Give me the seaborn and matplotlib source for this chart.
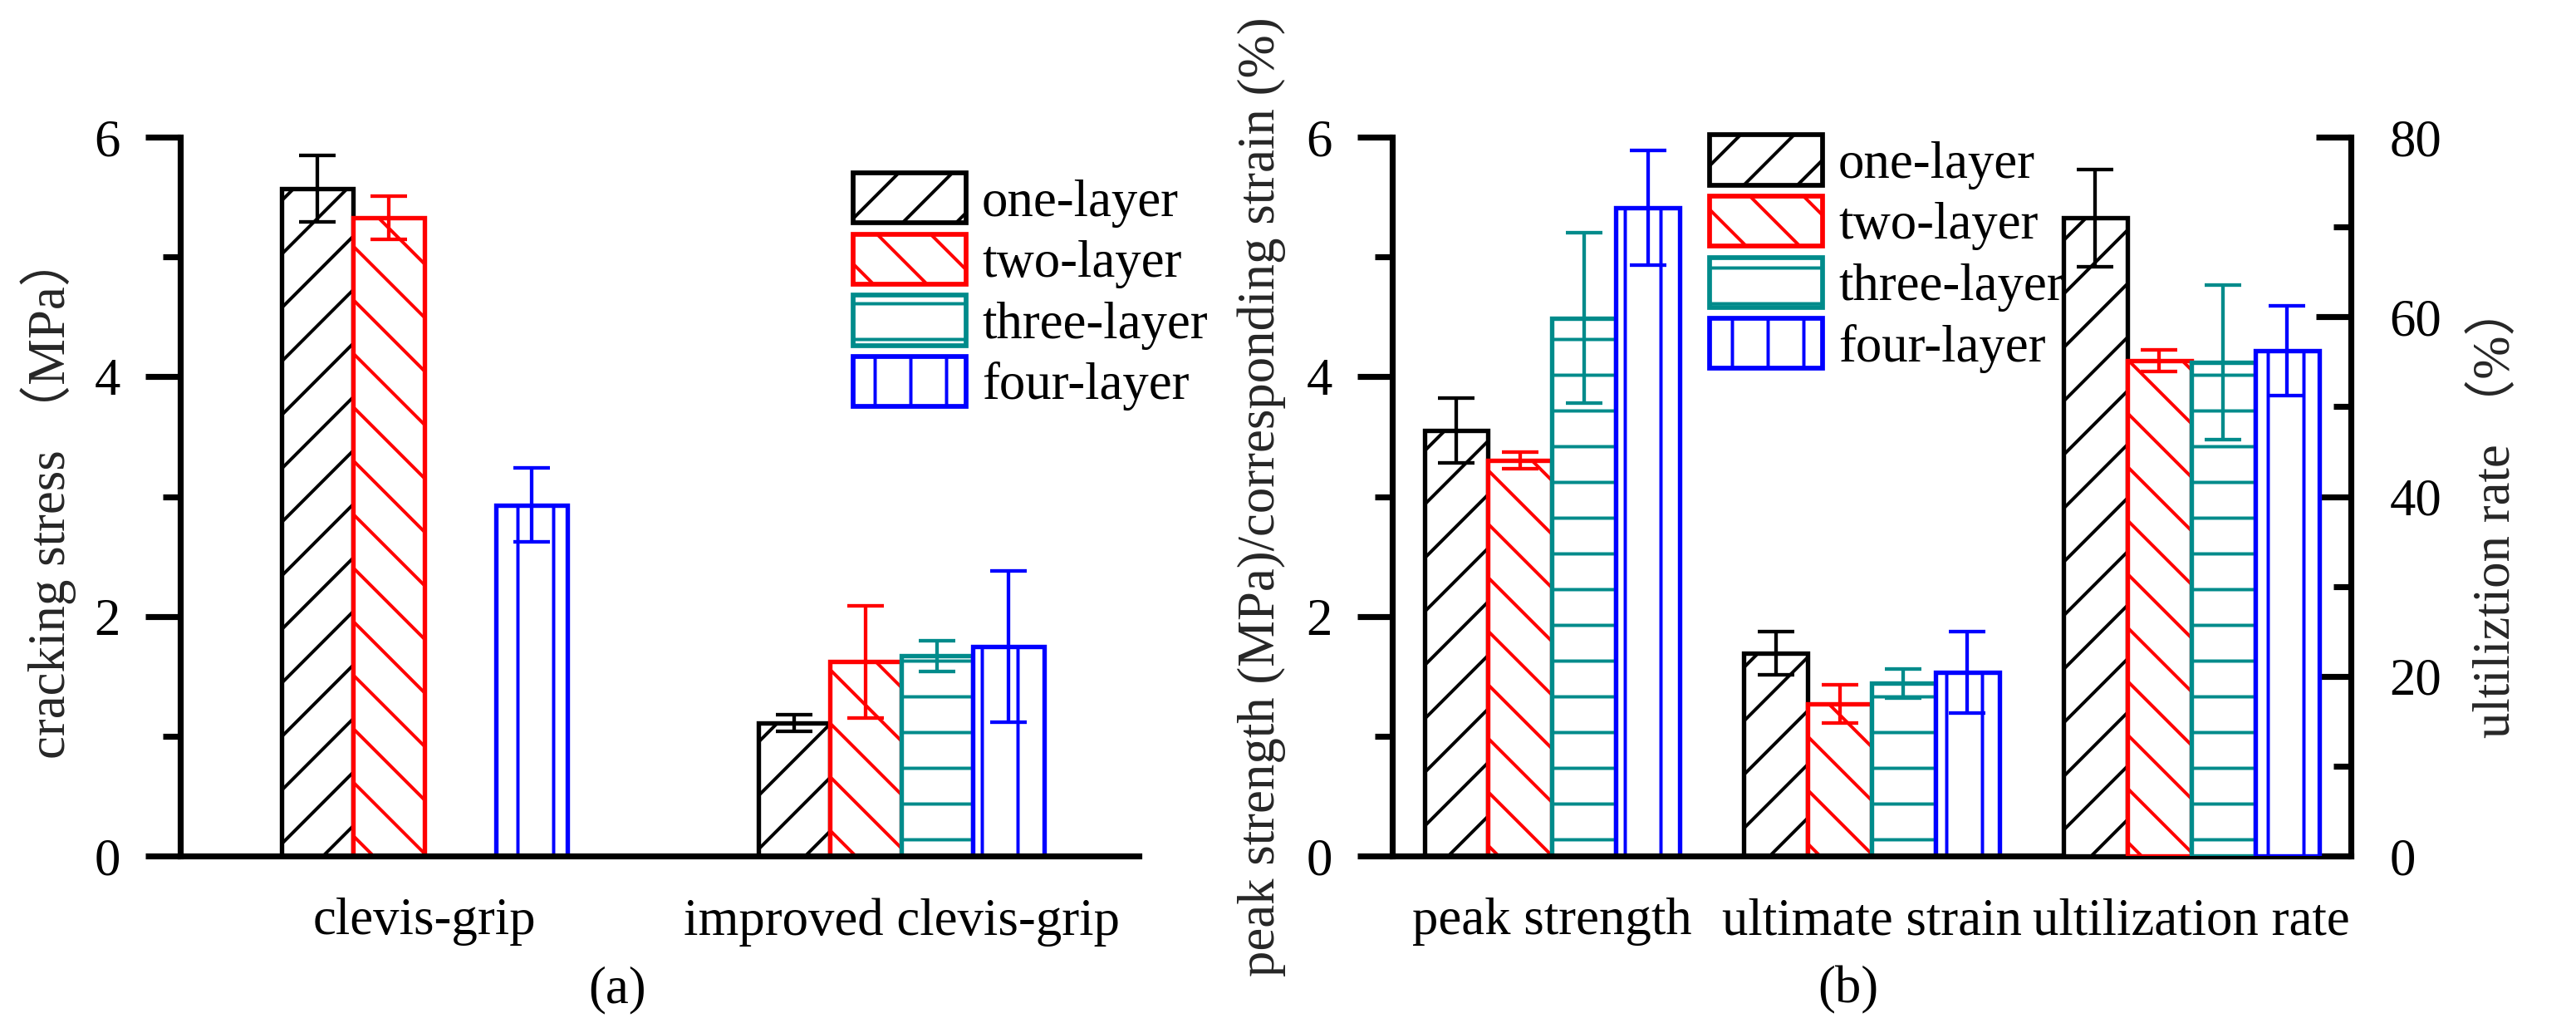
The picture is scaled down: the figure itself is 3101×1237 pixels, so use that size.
import numpy as np
import pandas as pd
import matplotlib
matplotlib.use("Agg")
import matplotlib.pyplot as plt
import seaborn as sns
from matplotlib.patches import Patch
from matplotlib.ticker import MultipleLocator
from matplotlib.backend_bases import GraphicsContextBase
from matplotlib.path import Path as MPath

# ---------------- data ----------------
layers = ["one-layer", "two-layer", "three-layer", "four-layer"]
layer_colors = ["#000000", "#FF0000", "#008B8B", "#0000FF"]
layer_hatches = ["/", "\\", "-", "|"]

# panel (a): cracking stress (MPa)
a_groups = ["clevis-grip", "improved clevis-grip"]
a_one = [5.57, 1.11]
a_one_err = [0.28, 0.07]
a_two = [5.33, 1.62]
a_two_err = [0.18, 0.47]
a_three = [np.nan, 1.67]
a_three_err = [np.nan, 0.13]
a_four = [2.93, 1.75]
a_four_err = [0.31, 0.63]

# panel (b): left axis (peak strength MPa / ultimate strain %)
b_groups = ["peak strength", "ultimate strain", "ultilization rate"]
b_one = [3.55, 1.69]
b_one_err = [0.27, 0.18]
b_two = [3.30, 1.27]
b_two_err = [0.07, 0.16]
b_three = [4.49, 1.44]
b_three_err = [0.71, 0.12]
b_four = [5.41, 1.53]
b_four_err = [0.48, 0.34]
# panel (b): right axis (utilization rate %)
b_util = [71.0, 55.1, 54.9, 56.2]
b_util_err = [5.4, 1.2, 8.6, 5.0]

# ---------------- style ----------------
DPI = 258
FS = 17.5
sns.set_style("white")
plt.rcParams["font.family"] = ["Liberation Serif", "Noto Sans CJK SC"]
plt.rcParams["hatch.linewidth"] = 1.1
plt.rcParams["axes.edgecolor"] = "black"
plt.rcParams["text.color"] = "black"
plt.rcParams["xtick.color"] = "black"
plt.rcParams["ytick.color"] = "black"

# sparser diagonal hatching so that all hatch families share the same line spacing
_orig_hatch = GraphicsContextBase.get_hatch_path


def _hatch_path(self, density=6.0):
    h = self.get_hatch()
    if h is None:
        return None
    if set(h) <= set("/\\"):
        density = 8.0
    return MPath.hatch(h, density)


GraphicsContextBase.get_hatch_path = _hatch_path


def long_df(groups, series, errs):
    rows = []
    for layer, vals, es in zip(layers, series, errs):
        for g, v, e in zip(groups, vals, es):
            if not np.isnan(v):
                rows.append(dict(group=g, layer=layer, value=v, err=e))
    return pd.DataFrame(rows)


df_a = long_df(a_groups, [a_one, a_two, a_three, a_four],
               [a_one_err, a_two_err, a_three_err, a_four_err])
df_b = long_df(b_groups[:2], [b_one, b_two, b_three, b_four],
               [b_one_err, b_two_err, b_three_err, b_four_err])
df_u = long_df(b_groups[2:], [[v] for v in b_util], [[e] for e in b_util_err])

palette = dict(zip(layers, layer_colors))


def draw(ax, df, order, width):
    sns.barplot(data=df, x="group", y="value", hue="layer", order=order,
                hue_order=layers, palette=palette, width=width, errorbar=None,
                dodge=True, legend=False, ax=ax)
    n = len(layers)
    w = width / n
    for bar in list(ax.patches):
        xc = bar.get_x() + bar.get_width() / 2
        ci = int(round(xc))
        hi = int(round((xc - ci + width / 2 - w / 2) / w))
        row = df[(df.group == order[ci]) & (df.layer == layers[hi])]
        if row.empty:
            continue
        bar.set_facecolor("white")
        bar.set_edgecolor(layer_colors[hi])
        bar.set_hatch(layer_hatches[hi])
        bar.set_linewidth(1.5)
        ax.errorbar(xc, bar.get_height(), yerr=row["err"].iloc[0], fmt="none",
                    ecolor=layer_colors[hi], elinewidth=1.2, capsize=6.2,
                    capthick=1.2, zorder=5)


def style_left(ax):
    for s in ["top", "right"]:
        ax.spines[s].set_visible(False)
    for s in ["left", "bottom"]:
        ax.spines[s].set_linewidth(2.0)
        ax.spines[s].set_color("black")
    ax.yaxis.set_major_locator(MultipleLocator(2))
    ax.yaxis.set_minor_locator(MultipleLocator(1))
    ax.tick_params(axis="y", which="major", direction="out", length=11.7,
                   width=2.0, pad=8.4, labelsize=FS, left=True)
    ax.tick_params(axis="y", which="minor", direction="out", length=6,
                   width=2.0, left=True)
    ax.tick_params(axis="x", which="both", length=0, pad=14, labelsize=FS)
    ax.set_xlabel("")


def legend(ax, anchor):
    handles = [Patch(facecolor="white", edgecolor=c, hatch=h, linewidth=1.6,
                     label=l)
               for l, c, h in zip(layers, layer_colors, layer_hatches)]
    ax.legend(handles=handles, loc="upper left", bbox_to_anchor=anchor,
              frameon=False, borderpad=0, borderaxespad=0, handlelength=2.17,
              handleheight=1.1, labelspacing=0.13, handletextpad=0.3,
              fontsize=FS)


fig = plt.figure(figsize=(3101 / DPI, 1237 / DPI), dpi=DPI)
fig.patch.set_facecolor("white")
B, H = 0.1673, 0.8666 - 0.1673
ax_a = fig.add_axes([0.0700, B, 0.4421 - 0.0700, H])
ax_b = fig.add_axes([0.5405, B, 0.9126 - 0.5405, H])

# ---------------- panel (a) ----------------
draw(ax_a, df_a, a_groups, 0.6)
style_left(ax_a)
ax_a.set_ylim(0, 6)
ax_a.set_xlim(-0.512, 1.498)
ax_a.set_xticks(range(len(a_groups)))
ax_a.set_xticklabels(a_groups)
ax_a.set_ylabel("cracking stress （MPa）", fontsize=FS)
ax_a.yaxis.set_label_coords(-0.108, 0.5)
legend(ax_a, (0.702, 0.95))

# ---------------- panel (b) ----------------
ax_u = ax_b.twinx()
draw(ax_b, df_b, b_groups, 0.8)
draw(ax_u, df_u, b_groups, 0.8)
style_left(ax_b)
ax_b.set_ylim(0, 6)
ax_b.set_ylabel("peak strength (MPa)/corresponding strain (%)", fontsize=FS)
ax_b.yaxis.set_label_coords(-0.111, 0.5)

for s in ["top", "left", "bottom"]:
    ax_u.spines[s].set_visible(False)
ax_u.spines["right"].set_linewidth(2.0)
ax_u.spines["right"].set_color("black")
ax_u.set_ylim(0, 80)
ax_u.yaxis.set_major_locator(MultipleLocator(20))
ax_u.yaxis.set_minor_locator(MultipleLocator(10))
ax_u.tick_params(axis="y", which="major", direction="in", length=11.7,
                 width=2.0, pad=13, labelsize=FS, right=True)
ax_u.tick_params(axis="y", which="minor", direction="in", length=6,
                 width=2.0, right=True)
ax_u.set_ylabel("ultiliztion rate （%）", fontsize=FS)
ax_u.yaxis.set_label_coords(1.126, 0.48)
ax_u.set_xlabel("")

ax_b.set_xlim(-0.5, 2.5)
ax_b.set_xticks(range(len(b_groups)))
ax_b.set_xticklabels(b_groups)
legend(ax_u, (0.331, 1.003))

fig.text(0.2396, 0.0243, "(a)", ha="center", va="baseline", fontsize=FS)
fig.text(0.7175, 0.0243, "(b)", ha="center", va="baseline", fontsize=FS)

fig.savefig("out.png", dpi=DPI, facecolor="white")
